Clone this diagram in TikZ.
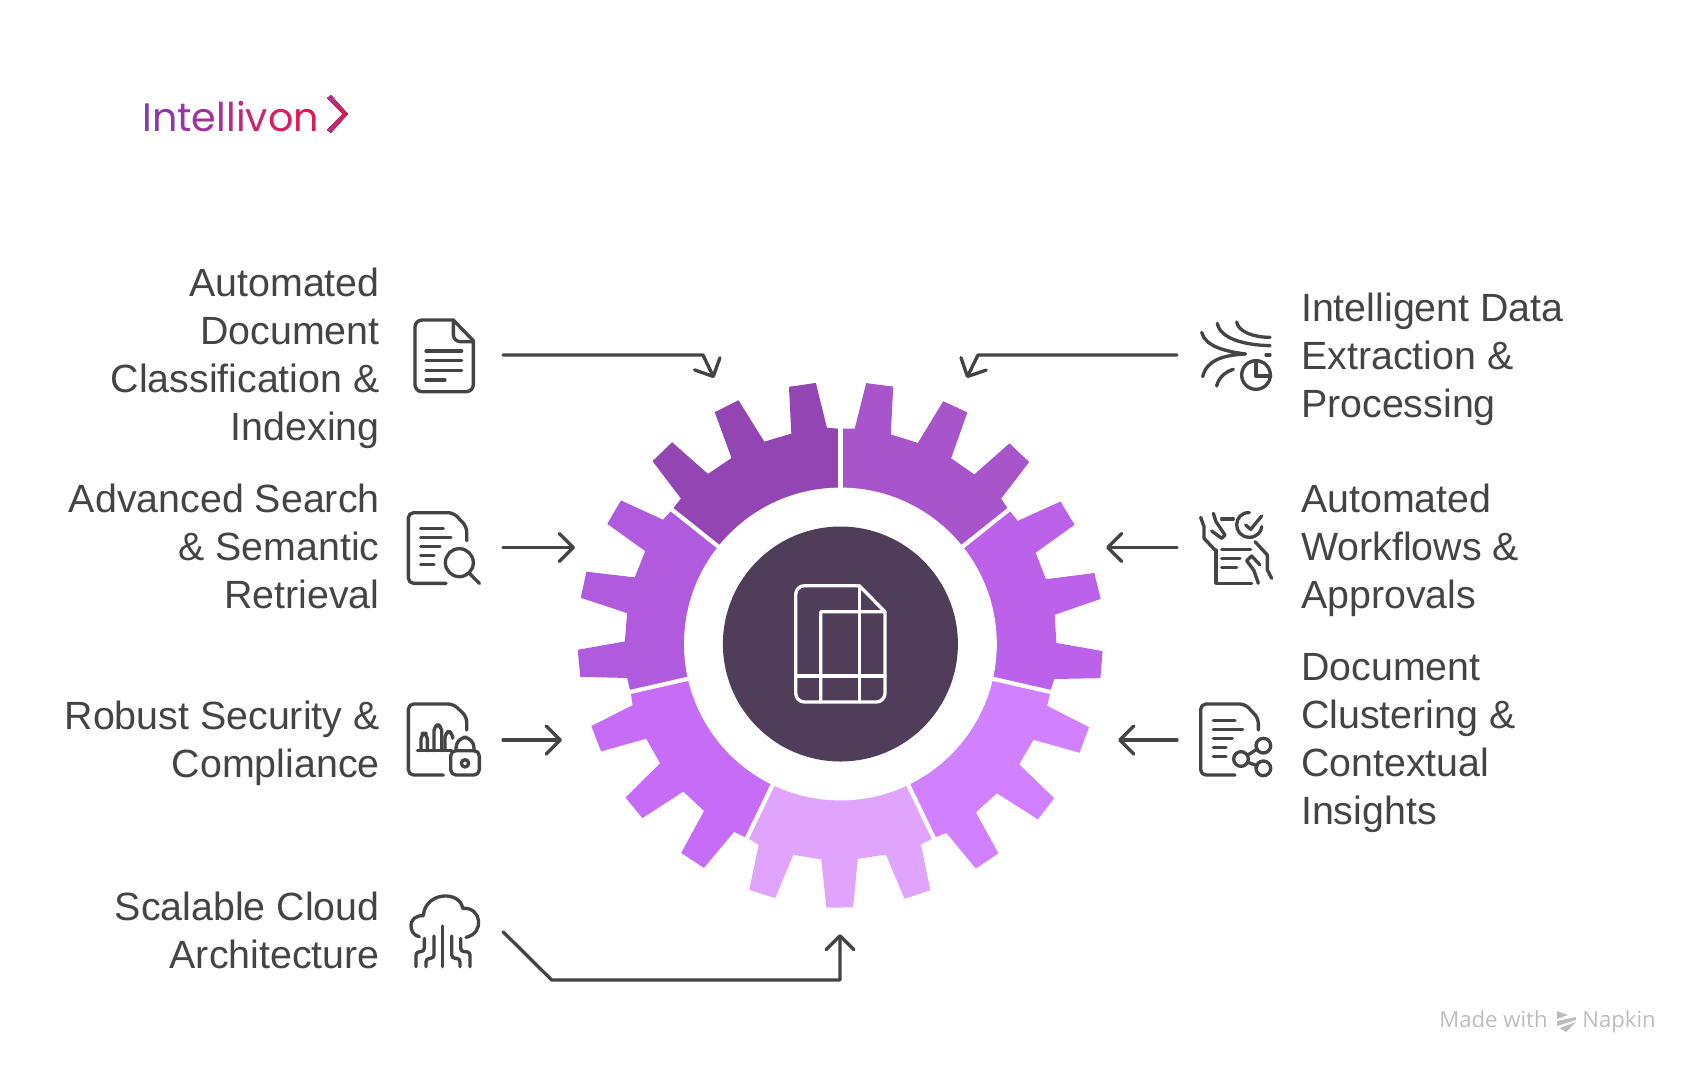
\documentclass[tikz,border=0pt]{standalone}
\usepackage{fontspec}
\setmainfont{Liberation Sans}
\newfontfamily\logofont{Poppins}
\newfontfamily\markfont{Open Sans}
\usetikzlibrary{arrows.meta}

\definecolor{inkgray}{HTML}{444444}
\definecolor{hubdark}{HTML}{4F3D59}
\definecolor{marksgray}{HTML}{BDBDBD}
\definecolor{partA}{HTML}{A855CC}
\definecolor{partB}{HTML}{BC62EA}
\definecolor{partC}{HTML}{D180FF}
\definecolor{partD}{HTML}{E0A4FD}
\definecolor{partE}{HTML}{C66CF6}
\definecolor{partF}{HTML}{B05ADD}
\definecolor{partG}{HTML}{9346B3}
\definecolor{logostart}{HTML}{B0338C}
\definecolor{logoend}{HTML}{E0164A}

\tikzset{
    iconline/.style={draw=inkgray,line width=1.9pt,line cap=round,line join=round},
    hubline/.style={draw=white,line width=1.9pt,line cap=round,line join=round},
    flowline/.style={draw=inkgray,line width=1.9pt,line cap=round,line join=round,
        -{Straight Barb[length=8pt,width=16pt,line width=1.9pt,round]}},
    lefttext/.style={anchor=east,align=right,inner sep=0pt,text=inkgray,font=\fontsize{22.4}{27.3}\selectfont},
    righttext/.style={anchor=west,align=left,inner sep=0pt,text=inkgray,font=\fontsize{22.4}{27.3}\selectfont},
    marktext/.style={anchor=base west,inner sep=0pt,text=marksgray,font=\markfont\fontsize{12.6}{15}\selectfont},
    iconzoom/.style={shift={#1},scale=1/3},
}

\begin{document}
\begin{tikzpicture}[x=0.02cm,y=-0.02cm]
    \useasboundingbox (0,0) rectangle (1704,1076);

    % gear
    \begin{scope}[shift={(840.4,644)}]
        \foreach \partcol [count=\i from 0] in {partA,partB,partC,partD,partE,partF,partG} {
            \fill[\partcol,rotate=-51.43*\i] (0,0) -- (0,-215.4) -- (14.3,-215.4) -- (25.8,-260.9)
                -- (52.8,-257.4) -- (50.4,-209.6) -- (77.5,-201.1) -- (102.8,-242.8) -- (127,-231.6)
                -- (110.7,-185.7) -- (133.9,-169.6) -- (169,-200.6) -- (188.8,-182) -- (160.7,-145.4)
                -- (167.9,-134.6) -- cycle;
        }
        \foreach \i in {0,...,6} {
            \draw[white,line width=2.4pt,rotate=-51.43*\i] (0,-150) -- (0,-218);
        }
        \fill[white] (0,0) circle (156.4);
        \fill[hubdark] (0,0) circle (117.5);
    \end{scope}

    % icon in the hub
    \begin{scope}[hubline]
        \draw[rounded corners=5pt] (859.3,585.7) -- (795.7,585.7) -- (795.7,702) -- (885,702) -- (885,611.8);
        \draw (859.3,585.7) -- (885,611.8) -- (820.7,611.8) -- (820.7,702);
        \draw (859.3,585.7) -- (859.3,702);
        \draw (795.7,676) -- (885,676);
    \end{scope}

    % logo
    \node[anchor=base west,inner sep=0pt,font=\logofont\fontsize{22.6}{26}\selectfont] (logo) at (142,131.5) {%
        \textcolor[HTML]{7F3CB0}{I}\textcolor[HTML]{8B39A8}{n}\textcolor[HTML]{9636A0}{t}\textcolor[HTML]{A13398}{e}%
        \textcolor[HTML]{AC308F}{l}\textcolor[HTML]{B62D85}{l}\textcolor[HTML]{C0287A}{i}\textcolor[HTML]{CB2470}{v}%
        \textcolor[HTML]{D61F63}{o}\textcolor[HTML]{E01A52}{n}};
    \fill[left color=logostart,right color=logoend] (327,98) -- (331,95) -- (348,114) -- (331,133) -- (327,130) -- (342.5,114) -- cycle;

    % left column
    \node[lefttext] (autodoc) at (380,358.5) {Automated\\Document\\Classification \&\\Indexing};
    \node[lefttext] (search) at (380,546) {Advanced Search\\\& Semantic\\Retrieval};
    \node[lefttext] (security) at (380,743) {Robust Security \&\\Compliance};
    \node[lefttext] (cloud) at (380,930) {Scalable Cloud\\Architecture};

    % right column
    \node[righttext] (extract) at (1300.8,359) {Intelligent Data\\Extraction \&\\Processing};
    \node[righttext] (workflow) at (1300.8,550) {Automated\\Workflows \&\\Approvals};
    \node[righttext] (cluster) at (1300.8,743) {Document\\Clustering \&\\Contextual\\Insights};

    % icons on the left
    \begin{scope}[iconzoom={(390,300)},iconline]
        \draw[rounded corners=4pt] (190,60) -- (75,60) -- (75,275) -- (250,275) -- (250,122);
        \draw (190,60) -- (250,122);
        \draw[rounded corners=4pt] (190,60) -- (190,125) -- (250,125);
        \draw (108,153) -- (215,153) (108,182) -- (215,182) (108,211) -- (215,211) (108,240) -- (165,240);
    \end{scope}
    \begin{scope}[iconzoom={(390,300)},iconline]
        \draw[rounded corners=3pt] (230,722) -- (230,680) -- (190,638) -- (55,638) -- (55,850) -- (168,850);
        \draw (92,686) -- (160,686) (92,712) -- (183,712) (92,739) -- (150,739) (92,766) -- (132,766) (92,793) -- (132,793);
        \draw (208,788) circle (42);
        \draw (238,820) -- (268,850);
    \end{scope}
    \begin{scope}[iconzoom={(390,680)},iconline]
        \draw[rounded corners=3pt] (230,150) -- (230,110) -- (190,72) -- (55,72) -- (55,285) -- (160,285);
        \draw (82,212) -- (185,212);
        \draw[rounded corners=3pt] (93,212) -- (93,160) -- (112,160) -- (112,212);
        \draw[rounded corners=3pt] (132,212) -- (132,135) -- (155,135) -- (155,212);
        \draw[rounded corners=3pt] (165,212) -- (165,155) -- (188,155) -- (188,175);
        \draw[rounded corners=3pt] (182,212) rectangle (268,285);
        \draw[rounded corners=6pt] (198,212) -- (198,172) -- (252,172) -- (252,212);
        \draw (225,250) circle (11);
    \end{scope}
    \begin{scope}[iconzoom={(390,680)},iconline]
        \draw (88,770) .. controls (55,765) and (50,705) .. (100,707) .. controls (105,635) and (210,630) .. (218,685) .. controls (275,680) and (285,760) .. (228,772);
        \draw (158,738) -- (158,860);
        \draw[rounded corners=2pt] (132,768) -- (132,835) -- (108,835) -- (108,860);
        \draw[rounded corners=2pt] (185,768) -- (185,835) -- (210,835) -- (210,860);
        \draw[rounded corners=2pt] (103,775) -- (103,815) -- (78,815) -- (78,860);
        \draw[rounded corners=2pt] (212,775) -- (212,815) -- (240,815) -- (240,860);
    \end{scope}

    % icons on the right
    \begin{scope}[iconzoom={(1180,300)},iconline]
        \draw (65,97) .. controls (75,140) and (140,155) .. (197,162) .. controls (130,165) and (80,180) .. (68,230);
        \draw (112,70) .. controls (120,115) and (190,135) .. (270,137);
        \draw (170,66) .. controls (175,95) and (220,112) .. (270,112);
        \draw (160,208) .. controls (135,215) and (115,235) .. (110,258);
        \draw (258,165) -- (270,165);
        \draw (228,225) circle (43);
        \draw (228,185) -- (228,228) -- (272,228);
    \end{scope}
    \begin{scope}[iconzoom={(1180,300)},iconline]
        \draw (208,638) .. controls (160,635) and (155,710) .. (208,712) .. controls (230,712) and (245,695) .. (245,680);
        \draw (197,675) -- (212,688) -- (245,648);
        \draw (125,657) -- (160,657);
        \draw (62,652) -- (72,680) -- (72,715) -- (105,750);
        \draw (100,640) -- (108,665) -- (135,705) -- (125,715) -- (95,693);
        \draw (108,750) -- (108,850) -- (215,850);
        \draw (125,748) -- (212,748) (125,775) -- (180,775) (125,802) -- (170,802);
        \draw (225,725) -- (262,765) -- (262,810) -- (275,835);
        \draw (240,795) -- (215,768) -- (200,782) -- (222,812) -- (235,850);
    \end{scope}
    \begin{scope}[iconzoom={(1180,680)},iconline]
        \draw[rounded corners=3pt] (235,150) -- (235,115) -- (195,72) -- (62,72) -- (62,285) -- (165,285);
        \draw (100,121) -- (165,121) (100,148) -- (188,148) (100,175) -- (157,175) (100,202) -- (138,202) (100,229) -- (138,229);
        \draw (250,197) circle (22) (183,237) circle (22) (250,265) circle (22);
        \draw (203,225) -- (232,207) (203,247) -- (232,257);
    \end{scope}

    % free ends of the connectors
    \coordinate (a1) at (503,355);
    \coordinate (a1k) at (703,355);
    \coordinate (a1t) at (714,378);
    \coordinate (a2) at (503,547.5);
    \coordinate (a2t) at (575,547.5);
    \coordinate (a3) at (503,740);
    \coordinate (a3t) at (562,740);
    \coordinate (a4) at (503,931.7);
    \coordinate (a4j) at (551.7,980);
    \coordinate (a4k) at (840,980);
    \coordinate (a4t) at (840,934);
    \coordinate (b1) at (1177,355);
    \coordinate (b1k) at (978,355);
    \coordinate (b1t) at (966.7,378);
    \coordinate (b2) at (1177,547.5);
    \coordinate (b2t) at (1106,547.5);
    \coordinate (b3) at (1177,740);
    \coordinate (b3t) at (1118,740);

    \draw[flowline] (a1) -- (a1k) -- (a1t);
    \draw[flowline] (a2) -- (a2t);
    \draw[flowline] (a3) -- (a3t);
    \draw[flowline] (a4) -- (a4j) -- (a4k) -- (a4t);
    \draw[flowline] (b1) -- (b1k) -- (b1t);
    \draw[flowline] (b2) -- (b2t);
    \draw[flowline] (b3) -- (b3t);

    % made with
    \node[marktext] (madewith) at (1439,1027) {Made with};
    \node[marktext] (napkin) at (1582,1027) {Napkin};
    \fill[marksgray] (1557,1011) -- (1568,1015) -- (1557,1019) -- cycle;
    \fill[marksgray] (1557,1021) -- (1576,1017) -- (1576,1020) -- (1557,1026) -- cycle;
    \fill[marksgray] (1560,1028) -- (1576,1022) -- (1566,1032) -- cycle;
\end{tikzpicture}
\end{document}
